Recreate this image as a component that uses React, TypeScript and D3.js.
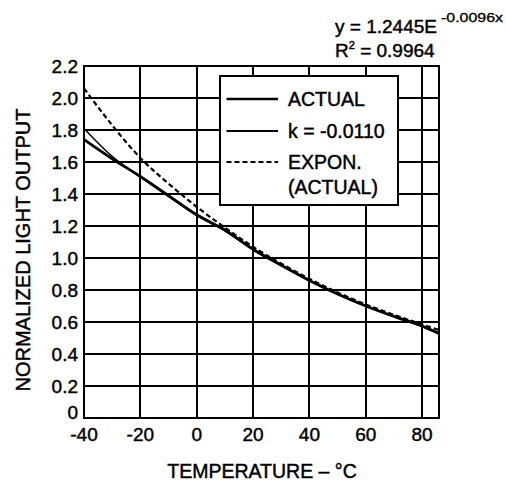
import React from 'react';
import * as d3 from 'd3';

// temperature (°C) sample points
const temps = [-40, -30, -20, -10, 0, 10, 20, 30, 40, 50, 60, 70, 80, 86];
// measured curve (thick)
const actual = [1.74, 1.62, 1.51, 1.39, 1.27, 1.175, 1.055, 0.955, 0.86, 0.775, 0.7, 0.635, 0.575, 0.53];
// k = -0.0110 curve (thin)
const kCurve = [1.81, 1.635, 1.505, 1.385, 1.265, 1.17, 1.05, 0.955, 0.86, 0.775, 0.7, 0.635, 0.57, 0.525];
// exponential fit (dashed)
const expon = [2.06, 1.83, 1.625, 1.465, 1.32, 1.19, 1.07, 0.965, 0.87, 0.785, 0.71, 0.645, 0.585, 0.55];

const xTicks = [-40, -20, 0, 20, 40, 60, 80];
const yTicks = [0, 0.2, 0.4, 0.6, 0.8, 1.0, 1.2, 1.4, 1.6, 1.8, 2.0, 2.2];

const legendItems = [
  { label: 'ACTUAL', width: 2.4, dash: 'none' },
  { label: 'k = -0.0110', width: 2, dash: 'none' },
  { label: 'EXPON.', width: 2, dash: '5,3' },
];

const W = 506;
const H = 481;
const FONT = '"Liberation Sans", Arial, sans-serif';

// a slight outline makes the text as heavy as the scanned original
const ink = { fill: '#000', stroke: '#000', strokeWidth: 0.45 };

const App: React.FC = () => {
  // plot area
  const left = 84;
  const right = 439;
  const top = 66;
  const bottom = 418;

  const x = d3.scaleLinear().domain([-40, 86]).range([left, right]);
  const y = d3.scaleLinear().domain([0, 2.2]).range([bottom, top]);
  const px = (v: number) => Math.round(v);

  const line = (vals: number[]) =>
    d3
      .line<number>()
      .x((_, i) => x(temps[i]))
      .y((d) => y(d))
      .curve(d3.curveMonotoneX)(vals) || '';

  const fmtY = (v: number) => (v === 0 ? '0' : v.toFixed(1));

  // legend box
  const lg = { x: 220, y: 76, w: 178, h: 129 };
  const rowY = [99, 131, 162];

  return (
    <svg
      width={W}
      height={H}
      style={{ position: 'absolute', left: 0, top: 0, background: '#fff' }}
      fontFamily={FONT}
    >
      <rect width={W} height={H} fill="#fff" />

      {/* grid */}
      <g stroke="#000" strokeWidth={2}>
        {xTicks.map((t) => (
          <line key={'gx' + t} x1={px(x(t))} x2={px(x(t))} y1={top} y2={bottom} />
        ))}
        {yTicks.map((t) => (
          <line key={'gy' + t} x1={left - 1} x2={right + 1} y1={px(y(t))} y2={px(y(t))} />
        ))}
        <line x1={right} x2={right} y1={top} y2={bottom} />
      </g>

      {/* curves */}
      <g fill="none" stroke="#000">
        <path d={line(actual)} strokeWidth={2.8} />
        <path d={line(kCurve)} strokeWidth={1.5} />
        <path d={line(expon)} strokeWidth={2.2} strokeDasharray="5,3" />
      </g>

      {/* legend */}
      <rect x={lg.x} y={lg.y} width={lg.w} height={lg.h} fill="#fff" stroke="#000" strokeWidth={2} />
      {legendItems.map((item, i) => (
        <g key={item.label}>
          <line
            x1={226.5}
            x2={278}
            y1={rowY[i]}
            y2={rowY[i]}
            stroke="#000"
            strokeWidth={item.width}
            strokeDasharray={item.dash}
          />
          <text x={288} y={rowY[i] + 7} fontSize={19.5} {...ink}>
            {item.label}
          </text>
        </g>
      ))}
      <text x={288} y={194} fontSize={19.5} {...ink}>
        (ACTUAL)
      </text>

      {/* y tick labels */}
      {yTicks.map((t) => (
        <text
          key={'yl' + t}
          x={78}
          y={y(t) + (t === 0 ? 1 : 6.8)}
          fontSize={19}
          textAnchor="end"
          {...ink}
        >
          {fmtY(t)}
        </text>
      ))}

      {/* x tick labels */}
      {xTicks.map((t) => (
        <text key={'xl' + t} x={x(t)} y={441} fontSize={19} textAnchor="middle" {...ink}>
          {t}
        </text>
      ))}

      {/* axis titles */}
      <text x={262} y={478} fontSize={19.5} textAnchor="middle" {...ink}>
        TEMPERATURE – °C
      </text>
      <text transform="translate(29.5,250) rotate(-90)" fontSize={20} textAnchor="middle" {...ink}>
        NORMALIZED LIGHT OUTPUT
      </text>

      {/* trendline equation */}
      <text x={335} y={33} fontSize={19} {...ink}>
        y = 1.2445E
      </text>
      <text
        x={441}
        y={22}
        fontSize={12}
        textLength={62}
        lengthAdjust="spacingAndGlyphs"
        fill="#000"
        stroke="#000"
        strokeWidth={0.3}
      >
        -0.0096x
      </text>
      <text x={335} y={56.5} fontSize={19} {...ink}>
        R<tspan fontSize={11} dy={-8}>2</tspan>
        <tspan dy={8}> = 0.9964</tspan>
      </text>
    </svg>
  );
};

export default App;
